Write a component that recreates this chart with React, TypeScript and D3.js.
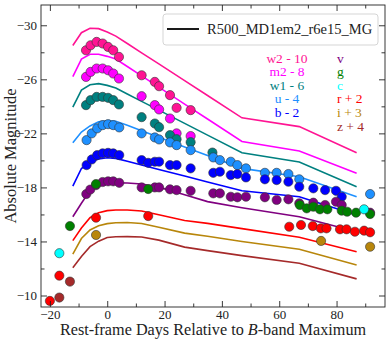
import React, { useEffect, useRef } from 'react';
import * as d3 from 'd3';

// model light curve (shifted bands), sampled on a common time grid
const modelDays = [-12, -9, -6, -3, 0, 3, 7, 12, 18, 27, 35, 47, 67, 87];
const modelW2 = [-28.5, -29.45, -29.78, -29.75, -29.5, -29.2, -28.65, -27.96, -27.14, -25.9, -24.8, -23.15, -22.5, -20.56];
const modelM2 = [-26.2, -27.5, -27.85, -27.85, -27.7, -27.5, -26.95, -26.25, -25.42, -24.17, -23.06, -21.4, -20.7, -19.05];
const modelW1 = [-23.95, -25.2, -25.6, -25.68, -25.55, -25.35, -24.91, -24.37, -23.72, -22.74, -21.87, -20.56, -19.88, -18.05];
const modelU = [-21.3, -22.1, -22.55, -22.85, -22.93, -22.9, -22.6, -22.2, -21.72, -21.0, -20.36, -19.41, -18.79, -17.31];
const modelB = [-18.1, -19.4, -19.88, -20.1, -20.2, -20.15, -19.93, -19.66, -19.33, -18.84, -18.4, -17.75, -17.31, -15.96];
const modelV = [-15.83, -16.83, -17.77, -18.11, -18.3, -18.34, -18.33, -18.25, -18.02, -17.45, -16.95, -16.5, -15.83, -14.72];
const modelR = [-14.06, -15.0, -15.76, -16.12, -16.28, -16.33, -16.33, -16.26, -15.98, -15.55, -15.34, -14.95, -14.31, -13.24];
const modelI = [-13.07, -14.22, -14.85, -15.16, -15.32, -15.39, -15.4, -15.33, -15.05, -14.62, -14.38, -14.0, -13.42, -12.26];
const modelZ = [-12.06, -12.89, -13.62, -14.02, -14.3, -14.35, -14.36, -14.33, -14.1, -13.58, -13.32, -12.95, -12.39, -11.23];

// observed photometry: [day, magnitude]
const obsW2 = [[-7.4, -28.15], [-5.8, -28.52], [-3.7, -28.77], [-1.6, -28.65], [0.3, -28.4], [2.1, -28.15], [4.1, -27.66],
  [12.0, -26.3], [16.6, -25.81], [18.1, -25.49], [21.9, -24.83], [24.2, -23.89], [29.1, -23.72]];
const obsM2 = [[-7.4, -26.18], [-5.8, -26.55], [-3.7, -26.8], [-1.6, -26.8], [0.3, -26.67], [2.1, -26.43], [4.1, -26.06],
  [12.0, -24.75], [16.6, -24.09], [18.1, -23.77], [21.9, -23.1], [24.2, -22.0], [29.1, -21.8]];
const obsW1 = [[-7.4, -24.09], [-5.8, -24.46], [-3.7, -24.7], [-1.6, -24.7], [0.3, -24.63], [2.1, -24.46], [4.1, -24.14],
  [12.0, -23.2], [16.6, -22.73], [18.1, -22.46], [21.9, -21.87], [24.2, -21.57], [29.1, -21.35], [36.7, -20.58]];
const obsU = [[-7.2, -21.5], [-5.4, -22.0], [-3.5, -22.37], [-1.6, -22.61], [0.3, -22.68], [2.1, -22.61], [4.2, -22.44],
  [12.0, -22.0], [16.6, -21.7], [18.1, -21.55], [21.9, -21.33], [24.2, -21.13], [29.1, -20.76], [37.0, -20.22],
  [39.3, -20.02], [43.1, -19.9], [45.4, -19.65], [48.4, -19.41], [55.0, -19.08], [59.1, -19.08], [63.2, -18.99],
  [67.0, -18.6], [91.7, -17.51]];
const obsB = [[-7.2, -19.65], [-5.4, -20.07], [-3.5, -20.39], [-1.6, -20.52], [0.3, -20.56], [2.1, -20.52], [4.2, -20.39],
  [12.0, -20.02], [14.3, -19.82], [16.6, -19.9], [18.1, -19.9], [21.9, -19.65], [24.2, -19.65], [29.1, -19.41],
  [37.0, -19.08], [39.3, -19.16], [43.1, -18.91], [45.4, -18.99], [48.4, -18.74], [55.0, -18.6], [59.1, -18.54],
  [63.2, -18.42], [67.0, -18.05], [71.9, -17.93], [76.0, -17.8], [79.8, -17.75], [81.8, -17.31]];
const obsV = [[-7.3, -17.51], [-5.9, -17.84], [-3.9, -18.17], [-1.6, -18.4], [0.3, -18.45], [2.1, -18.45], [4.2, -18.34],
  [12.0, -18.0], [16.6, -18.0], [18.1, -18.0], [21.9, -17.86], [24.2, -17.8], [29.1, -17.75], [37.0, -17.56],
  [39.3, -17.56], [43.1, -17.31], [45.4, -17.27], [48.4, -17.31], [55.0, -17.27], [59.1, -17.07], [63.2, -17.12],
  [67.0, -16.82], [71.9, -16.87], [76.0, -16.7], [79.8, -16.94], [81.8, -16.7], [91.7, -16.13]];
const obsG = [[-13.0, -15.14], [-3.9, -18.25], [14.3, -17.88], [67.2, -16.7], [69.6, -16.45], [71.9, -16.57],
  [74.2, -16.38], [76.8, -16.38], [81.8, -16.28], [83.7, -16.2], [86.8, -16.13], [91.7, -16.03]];
const obsC = [[-16.7, -13.13], [89.6, -16.38]];
const obsR = [[-20.0, -9.6], [-16.7, -11.47], [-3.9, -15.76], [14.3, -15.88], [63.5, -15.09], [67.6, -15.22],
  [71.7, -15.14], [74.5, -14.97], [76.5, -14.97], [81.2, -14.9], [83.5, -14.9], [86.4, -14.72], [89.6, -14.8], [91.7, -14.68]];
const obsI = [[-3.9, -14.48], [74.6, -14.04], [91.7, -13.61]];
const obsZ = [[-16.7, -9.85], [-13.0, -11.03]];

const leftLabels = ['w2 - 10', 'm2 - 8', 'w1 - 6', 'u - 4', 'b - 2'];
const rightLabels = ['v', 'g', 'c', 'r + 2', 'i + 3', 'z + 4'];
const legendText = 'R500_MD1em2_r6e15_MG';

const bands = [
  { color: '#ff1493', model: modelW2, obs: obsW2 },
  { color: '#ff00ff', model: modelM2, obs: obsM2 },
  { color: '#008080', model: modelW1, obs: obsW1 },
  { color: '#1e90ff', model: modelU, obs: obsU },
  { color: '#0000ff', model: modelB, obs: obsB },
  { color: '#800080', model: modelV, obs: obsV },
  { color: '#008000', model: null, obs: obsG },
  { color: '#00ffff', model: null, obs: obsC },
  { color: '#ff0000', model: modelR, obs: obsR },
  { color: '#b8860b', model: modelI, obs: obsI },
  { color: '#a52a2a', model: modelZ, obs: obsZ },
];
const leftColors = ['#ff1493', '#ff00ff', '#008080', '#1e90ff', '#0000ff'];
const rightColors = ['#800080', '#008000', '#00ffff', '#ff0000', '#b8860b', '#a52a2a'];

const W = 390;
const H = 346;
const m = { left: 41, right: 5, top: 5, bottom: 39 };
const font = "'Liberation Serif', 'DejaVu Serif', serif";

export default function App() {
  const svgRef = useRef<SVGSVGElement>(null);

  useEffect(() => {
    const svg = d3.select(svgRef.current);
    svg.selectAll('*').remove();

    const x = d3.scaleLinear().domain([-23.1, 96.9]).range([m.left, W - m.right]);
    const y = d3.scaleLinear().domain([-31.5, -9.15]).range([m.top, H - m.bottom]);

    const line = d3.line<number>()
      .x((d, i) => x(modelDays[i]))
      .y(d => y(d));

    const g = svg.append('g');

    bands.forEach(b => {
      if (!b.model) return;
      g.append('path')
        .attr('d', line(b.model))
        .attr('fill', 'none')
        .attr('stroke', b.color)
        .attr('stroke-width', 1.6);
    });

    bands.forEach(b => {
      g.append('g')
        .selectAll('circle')
        .data(b.obs)
        .join('circle')
        .attr('cx', d => x(d[0]))
        .attr('cy', d => y(d[1]))
        .attr('r', 4.6)
        .attr('fill', b.color)
        .attr('stroke', '#333')
        .attr('stroke-width', 0.6);
    });

    // frame
    svg.append('rect')
      .attr('x', m.left).attr('y', m.top)
      .attr('width', W - m.left - m.right).attr('height', H - m.top - m.bottom)
      .attr('fill', 'none').attr('stroke', '#222').attr('stroke-width', 0.9);

    const fmt = (d: number) => (d < 0 ? '\u2212' + Math.abs(d) : String(d));
    const styleAxis = (sel: any) => {
      sel.select('.domain').remove();
      sel.selectAll('line').attr('stroke', '#222').attr('stroke-width', 0.9);
      sel.selectAll('text').attr('font-family', font).attr('font-size', 13).attr('fill', '#222');
    };

    const xMajor = [-20, 0, 20, 40, 60, 80];
    const xMinor = [-10, 10, 30, 50, 70, 90];
    const yMajor = [-30, -26, -22, -18, -14, -10];
    const yMinor = [-28, -24, -20, -16, -12];

    svg.append('g').attr('transform', `translate(0,${H - m.bottom})`)
      .call(d3.axisBottom(x).tickValues(xMajor).tickSize(-6).tickPadding(3).tickFormat(fmt as any))
      .call(styleAxis);
    svg.append('g').attr('transform', `translate(0,${H - m.bottom})`)
      .call(d3.axisBottom(x).tickValues(xMinor).tickSize(-3.5).tickFormat(() => ''))
      .call(styleAxis);
    svg.append('g').attr('transform', `translate(0,${m.top})`)
      .call(d3.axisTop(x).tickValues(xMajor).tickSize(-6).tickFormat(() => ''))
      .call(styleAxis);
    svg.append('g').attr('transform', `translate(0,${m.top})`)
      .call(d3.axisTop(x).tickValues(xMinor).tickSize(-3.5).tickFormat(() => ''))
      .call(styleAxis);

    svg.append('g').attr('transform', `translate(${m.left},0)`)
      .call(d3.axisLeft(y).tickValues(yMajor).tickSize(-6).tickPadding(4).tickFormat(fmt as any))
      .call(styleAxis);
    svg.append('g').attr('transform', `translate(${m.left},0)`)
      .call(d3.axisLeft(y).tickValues(yMinor).tickSize(-3.5).tickFormat(() => ''))
      .call(styleAxis);
    svg.append('g').attr('transform', `translate(${W - m.right},0)`)
      .call(d3.axisRight(y).tickValues(yMajor).tickSize(-6).tickFormat(() => ''))
      .call(styleAxis);
    svg.append('g').attr('transform', `translate(${W - m.right},0)`)
      .call(d3.axisRight(y).tickValues(yMinor).tickSize(-3.5).tickFormat(() => ''))
      .call(styleAxis);

    // axis titles
    const xt = svg.append('text')
      .attr('x', 213).attr('y', 335)
      .attr('text-anchor', 'middle')
      .attr('font-family', font).attr('font-size', 16.2).attr('fill', '#222');
    xt.append('tspan').text('Rest-frame Days Relative to ');
    xt.append('tspan').attr('font-style', 'italic').text('B');
    xt.append('tspan').text('-band Maximum');

    svg.append('text')
      .attr('transform', `translate(16,156) rotate(-90)`)
      .attr('text-anchor', 'middle')
      .attr('font-family', font).attr('font-size', 16.5).attr('fill', '#222')
      .text('Absolute Magnitude');

    // legend
    svg.append('rect')
      .attr('x', 163).attr('y', 14).attr('width', 215).attr('height', 31).attr('rx', 3)
      .attr('fill', 'white').attr('fill-opacity', 0.85)
      .attr('stroke', '#d0d0d0').attr('stroke-width', 0.9);
    svg.append('line')
      .attr('x1', 167).attr('x2', 199).attr('y1', 29).attr('y2', 29)
      .attr('stroke', 'black').attr('stroke-width', 1.8);
    svg.append('text')
      .attr('x', 207).attr('y', 34)
      .attr('font-family', font).attr('font-size', 14.5).attr('fill', '#222')
      .text(legendText);

    svg.append('g').selectAll('text')
      .data(leftLabels)
      .join('text')
      .attr('x', 287).attr('y', (d, i) => 62.5 + i * 13.6)
      .attr('text-anchor', 'middle')
      .attr('font-family', font).attr('font-size', 13.5)
      .attr('fill', (d, i) => leftColors[i])
      .text(d => d);

    svg.append('g').selectAll('text')
      .data(rightLabels)
      .join('text')
      .attr('x', 337).attr('y', (d, i) => 62.5 + i * 13.6)
      .attr('font-family', font).attr('font-size', 13.5)
      .attr('fill', (d, i) => rightColors[i])
      .text(d => d);
  }, []);

  return (
    <svg ref={svgRef} width={W} height={H}
      style={{ position: 'fixed', left: 0, top: 0, background: 'white' }} />
  );
}
